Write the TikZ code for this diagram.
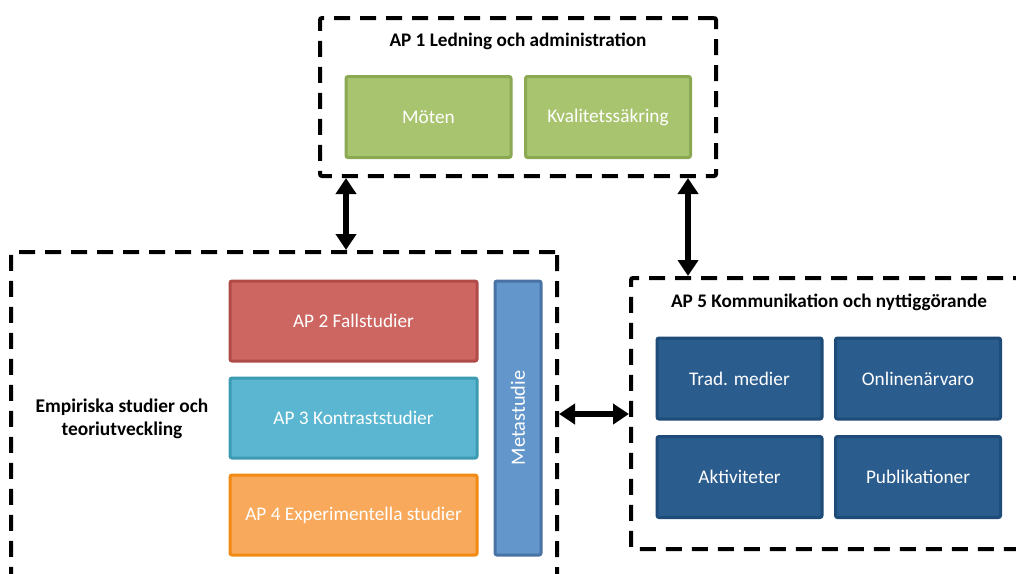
\documentclass[tikz,border=0pt]{standalone}
\usepackage{fontspec}
\setmainfont{Carlito}
\usetikzlibrary{arrows.meta}
\definecolor{gfill}{HTML}{A9C46E}\definecolor{gline}{HTML}{8BA853}
\definecolor{rfill}{HTML}{CD6661}\definecolor{rline}{HTML}{B04B48}
\definecolor{cfill}{HTML}{5BB7D1}\definecolor{cline}{HTML}{3C9BB3}
\definecolor{ofill}{HTML}{F9A95B}\definecolor{oline}{HTML}{F08A12}
\definecolor{mfill}{HTML}{6396CB}\definecolor{mline}{HTML}{4A73A5}
\definecolor{bfill}{HTML}{2A5C8E}\definecolor{bline}{HTML}{1F4B78}
\tikzset{
  wp/.style={rectangle, rounded corners=2pt, line width=3pt, text=white,
    font=\fontsize{19.3}{22}\selectfont, inner sep=0pt},
  gbox/.style={wp, fill=gfill, draw=gline, minimum width=165pt, minimum height=81pt},
  apbox/.style={wp, minimum width=247pt, minimum height=80pt},
  bbox/.style={wp, fill=bfill, draw=bline, minimum width=165pt, minimum height=81pt},
  group/.style={rectangle, draw=black, line width=4pt, dash pattern=on 16pt off 10pt,
    rounded corners=2pt, inner sep=0pt},
  title/.style={font=\fontsize{19.2}{22}\selectfont\bfseries, text=black},
  biarrow/.style={line width=6pt, {Triangle[width=20pt,length=16pt]}-{Triangle[width=20pt,length=16pt]}},
}
\begin{document}
\begin{tikzpicture}[x=1pt,y=-1pt]
\useasboundingbox (0,0) rectangle (1016,573);
% groups
\node[group, minimum width=396pt, minimum height=158pt] (ap1) at (518,97) {};
\node[group, minimum width=546pt, minimum height=350pt] (emp) at (284,427) {};
\node[group, minimum width=400pt, minimum height=271pt] (ap5) at (831,413.5) {};
% AP1
\node[title] (t1) at (518,41) {AP 1 Ledning och administration};
\node[gbox] (moten) at (428.5,117) {Möten};
\node[gbox] (kval) at (608,117) {Kvalitetssäkring};
% Empirical
\node[apbox, fill=rfill, draw=rline] (ap2) at (353.5,321) {AP 2 Fallstudier};
\node[apbox, fill=cfill, draw=cline] (ap3) at (353.5,418) {AP 3 Kontraststudier};
\node[apbox, fill=ofill, draw=oline] (ap4) at (353.5,515) {AP 4 Experimentella studier};
\node[wp, fill=mfill, draw=mline, minimum width=46pt, minimum height=274pt] (meta) at (518,418) {};
\node[rotate=90, text=white, font=\fontsize{20.3}{23}\selectfont] (metat) at (meta.center) {Metastudie};
\node[title, align=center, font=\fontsize{19.4}{23}\selectfont\bfseries] (empt) at (122,419) {Empiriska studier och\\teoriutveckling};
% AP5
\node[title] (t5) at (829,302) {AP 5 Kommunikation och nyttiggörande};
\node[bbox] (trad) at (739.5,378.5) {Trad. medier};
\node[bbox] (online) at (918,378.5) {Onlinenärvaro};
\node[bbox] (aktiv) at (739.5,477) {Aktiviteter};
\node[bbox] (publ) at (918,477) {Publikationer};
% arrows
\coordinate (c1) at (346,0);
\coordinate (c2) at (688,0);
\coordinate (c3) at (0,414);
\draw[biarrow] (ap1.south -| c1) -- (emp.north -| c1);
\draw[biarrow] (ap1.south -| c2) -- (ap5.north -| c2);
\draw[biarrow] (emp.east |- c3) -- (ap5.west |- c3);
\end{tikzpicture}
\end{document}
